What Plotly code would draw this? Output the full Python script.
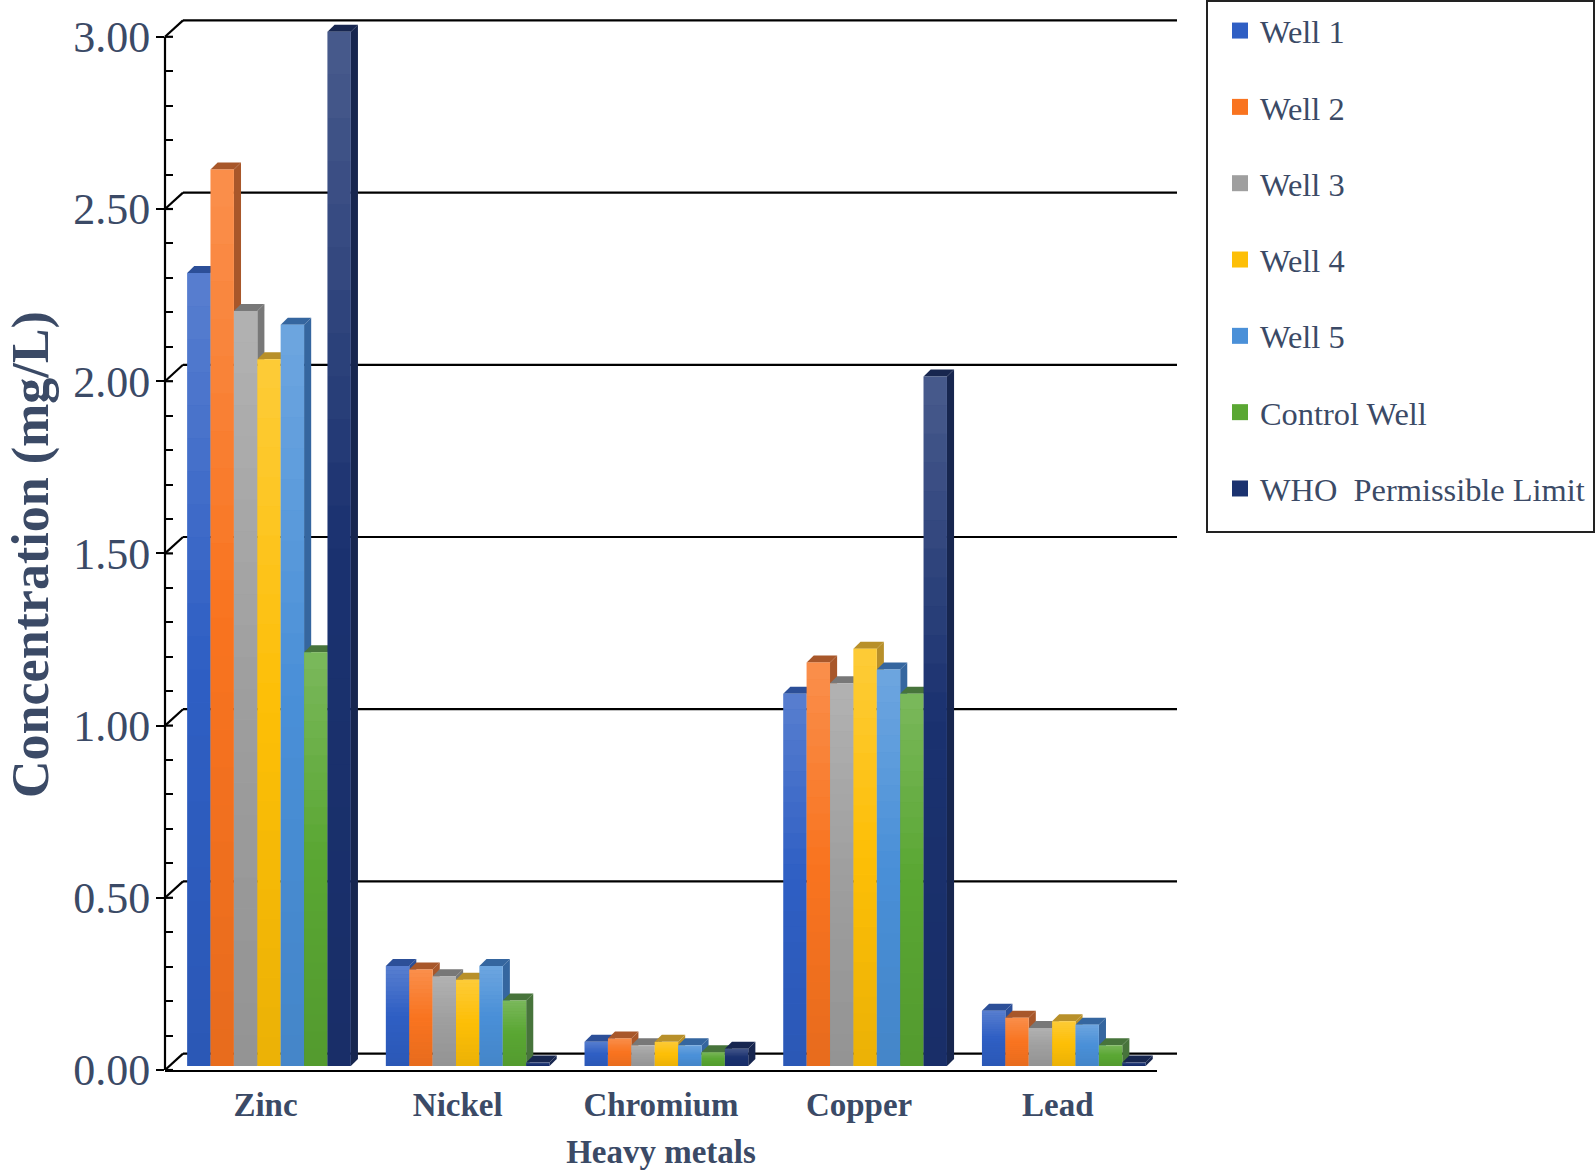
import plotly.graph_objects as go

METALS = ["Zinc", "Nickel", "Chromium", "Copper", "Lead"]
WELL_1 = [2.30, 0.29, 0.07, 1.08, 0.16]
WELL_2 = [2.60, 0.28, 0.08, 1.17, 0.14]
WELL_3 = [2.19, 0.26, 0.06, 1.11, 0.11]
WELL_4 = [2.05, 0.25, 0.07, 1.21, 0.13]
WELL_5 = [2.15, 0.29, 0.06, 1.15, 0.12]
CONTROL_WELL = [1.20, 0.19, 0.04, 1.08, 0.06]
WHO_LIMIT = [3.00, 0.01, 0.05, 2.00, 0.01]
SERIES_NAMES = ["Well 1", "Well 2", "Well 3", "Well 4", "Well 5", "Control Well", "WHO  Permissible Limit"]
SERIES_VALUES = [WELL_1, WELL_2, WELL_3, WELL_4, WELL_5, CONTROL_WELL, WHO_LIMIT]
Y_TICKS = [0, 0.5, 1, 1.5, 2, 2.5, 3]
Y_TICK_LABELS = ["0.00", "0.50", "1.00", "1.50", "2.00", "2.50", "3.00"]
Y_MINOR_TICKS = [0.1, 0.2, 0.3, 0.4, 0.6, 0.7, 0.8, 0.9, 1.1, 1.2, 1.3, 1.4,
                 1.6, 1.7, 1.8, 1.9, 2.1, 2.2, 2.3, 2.4, 2.6, 2.7, 2.8, 2.9]

FRONT = ["#2f5fc4", "#f97420", "#9f9f9f", "#fdbf07", "#4a90d8", "#5aa733", "#1b3270"]
DEPTH = ["#2c4f98", "#a8572a", "#787878", "#b8902a", "#35669f", "#47743b", "#17264f"]
TEXT = "#3b4a66"
SERIF = "Liberation Serif"
INK = "#000000"

W, H = 1595, 1172
L, R, T, B = 165, 1157, 1, 1070
GROUP_PX = 198.7
CENTER0 = 269.0
Y1_SCALE = 344.4
Y2_SCALE = 344.77
BAR_BASE_SHIFT = 4
GROUP_W = 0.824
DX, DY = 7.1 / GROUP_PX, 7.0 / Y2_SCALE
BACK_DX, BACK_DY, BACK_END = 18.0, 16.4, 1177.0
LABEL_NUDGE = [-3.5, -10, -5.4, -6, -6]
LEGEND_BOX = (1207, 1594, 1, 532)

xr = [(L - CENTER0) / GROUP_PX, (R - CENTER0) / GROUP_PX]
y1r = [0, (B - T) / Y1_SCALE]
y2r = [-BAR_BASE_SHIFT / Y2_SCALE, (B - BAR_BASE_SHIFT - T) / Y2_SCALE]


def paper_x(px):
    return (px - L) / (R - L)


def paper_y(px):
    return (B - px) / (B - T)


fig = go.Figure()
shapes = []
line = dict(color=INK, width=2.2)
shapes.append(dict(type="line", xref="paper", yref="y", layer="above",
                   x0=0, x1=0, y0=0, y1=max(Y_TICKS), line=line))
for v in Y_TICKS:
    back = v + BACK_DY / Y1_SCALE
    shapes.append(dict(type="line", xref="paper", yref="y", layer="below",
                       x0=BACK_DX / (R - L), x1=paper_x(BACK_END),
                       y0=back, y1=back, line=line))
    shapes.append(dict(type="line", xref="paper", yref="y", layer="below",
                       x0=0, x1=BACK_DX / (R - L), y0=v, y1=back, line=line))
    shapes.append(dict(type="line", xref="paper", yref="y", layer="above",
                       x0=0, x1=8 / (R - L), y0=v, y1=v, line=line))

n = len(SERIES_VALUES)
bw = GROUP_W / n
for s, (name, vals) in enumerate(zip(SERIES_NAMES, SERIES_VALUES)):
    fig.add_trace(go.Bar(x=list(range(len(METALS))), y=vals, name=name, yaxis="y2",
                         legendgroup=name,
                         marker=dict(color=FRONT[s], line=dict(width=0)),
                         showlegend=False, hoverinfo="y"))
    fig.add_trace(go.Scatter(x=[None], y=[None], mode="markers", name=name,
                             legendgroup=name,
                             marker=dict(symbol="square", size=16, color=FRONT[s]),
                             showlegend=True))
    for g, v in enumerate(vals):
        x0 = g - GROUP_W / 2 + s * bw
        x1 = x0 + bw
        shapes.append(dict(type="path", xref="x", yref="y2", layer="below", line=dict(width=0),
                           fillcolor=DEPTH[s],
                           path=f"M{x1},{v}L{x1+DX},{v+DY}L{x1+DX},{DY}L{x1},0Z"))
        shapes.append(dict(type="path", xref="x", yref="y2", layer="below", line=dict(width=0),
                           fillcolor=DEPTH[s],
                           path=f"M{x0},{v}L{x0+DX},{v+DY}L{x1+DX},{v+DY}L{x1},{v}Z"))
        steps = 24
        for k in range(steps):
            f = (k + 0.5) / steps
            if f < 0.5:
                col = f"rgba(255,255,255,{0.2 * (0.5 - f) * 2:.3f})"
            else:
                col = f"rgba(0,0,0,{0.07 * (f - 0.5) * 2:.3f})"
            shapes.append(dict(type="rect", xref="x", yref="y2", layer="above", line=dict(width=0),
                               fillcolor=col, x0=x0, x1=x1,
                               y0=v * (1 - k / steps), y1=v * (1 - (k + 1) / steps)))

shapes.append(dict(type="rect", xref="paper", yref="paper", layer="above",
                   x0=paper_x(LEGEND_BOX[0]), x1=paper_x(LEGEND_BOX[1]),
                   y0=paper_y(LEGEND_BOX[3]), y1=paper_y(LEGEND_BOX[2]),
                   line=dict(color="#222222", width=2), fillcolor="rgba(0,0,0,0)"))

fig.update_layout(
    width=W, height=H, autosize=False,
    paper_bgcolor="white", plot_bgcolor="rgba(0,0,0,0)",
    margin=dict(l=L, r=W - R, t=T, b=H - B, pad=0),
    barmode="group", bargap=1 - GROUP_W, bargroupgap=0,
    shapes=shapes,
    font=dict(family=SERIF, color=TEXT),
    xaxis=dict(range=xr, tickmode="array",
               tickvals=[i + LABEL_NUDGE[i] / GROUP_PX for i in range(len(METALS))],
               ticktext=METALS, ticks="", showgrid=False, zeroline=False,
               showline=True, linecolor=INK, linewidth=2,
               tickfont=dict(family=SERIF, size=33, color=TEXT, weight="bold"),
               ticklabelstandoff=4,
               title=dict(text="<b>Heavy metals</b>", standoff=18,
                          font=dict(family=SERIF, size=33, color=TEXT))),
    yaxis=dict(range=y1r, tickmode="array", tickvals=Y_TICKS, ticktext=Y_TICK_LABELS,
               ticks="outside", ticklen=8, tickwidth=2, tickcolor=INK,
               minor=dict(tickmode="array", tickvals=Y_MINOR_TICKS, ticks="inside", ticklen=8,
                          tickwidth=2, tickcolor=INK, showgrid=False),
               showgrid=False, zeroline=False, showline=False,
               tickfont=dict(family=SERIF, size=44, color=TEXT),
               ticklabelstandoff=-3),
    yaxis2=dict(range=y2r, overlaying="y", visible=False),
    legend=dict(x=paper_x(1208), xanchor="left", y=1, yanchor="top",
                bgcolor="rgba(0,0,0,0)", bordercolor="rgba(0,0,0,0)", borderwidth=2,
                itemsizing="trace", itemwidth=30, indentation=10, tracegroupgap=31.2, traceorder="grouped",
                font=dict(family=SERIF, size=32.4, color=TEXT)),
    annotations=[dict(text="<b>Concentration (mg/L)</b>", textangle=-90, showarrow=False,
                      xref="paper", yref="paper", xanchor="center", yanchor="middle",
                      x=paper_x(31), y=paper_y(555),
                      font=dict(family=SERIF, size=52, color=TEXT))],
)

fig.write_html("out.html", config={"displayModeBar": False},
               post_script="document.body.style.margin='0';")
